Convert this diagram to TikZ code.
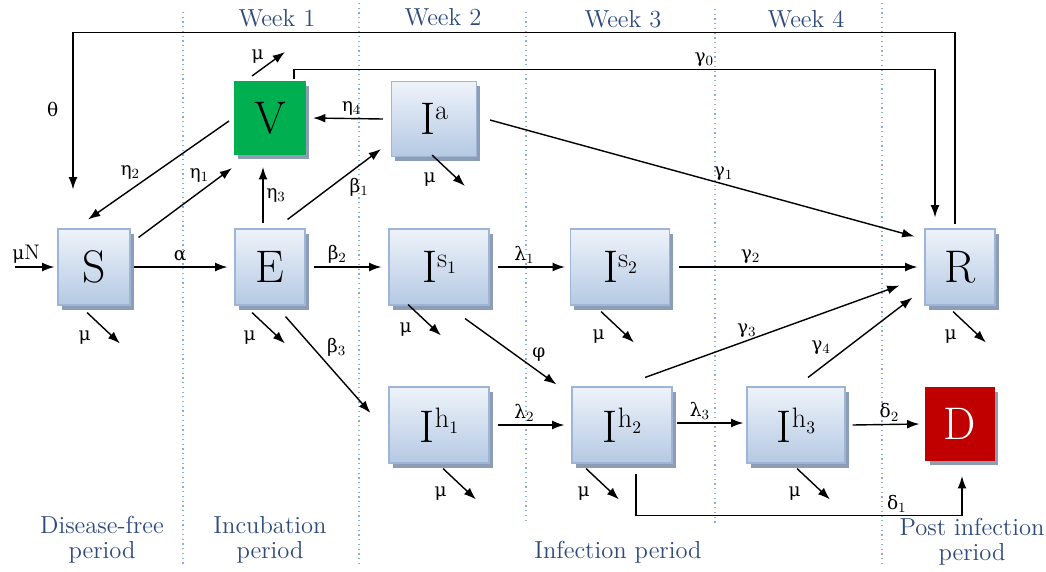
\documentclass[tikz,border=0pt]{standalone}
\usepackage{fontspec}
\newfontfamily\grk{DejaVu Serif}[Scale=0.88]
\usetikzlibrary{arrows.meta,positioning,shadows}
\definecolor{boxtop}{HTML}{EEF3FA}
\definecolor{boxbot}{HTML}{B5C9E3}
\definecolor{boxline}{HTML}{9DB6D8}
\definecolor{boxshade}{HTML}{8D9DB5}
\definecolor{weekblue}{HTML}{2E4A7D}
\definecolor{sepblue}{HTML}{8FAADC}
\definecolor{vgreen}{HTML}{00B050}
\definecolor{dred}{HTML}{C00000}
\newcommand{\Icomp}[2]{I\raisebox{0.32em}{\fontsize{16}{16}\selectfont #1\raisebox{-0.2em}{\fontsize{10}{10}\selectfont #2}}}
\newcommand{\gr}[2]{{\grk #1}\textsubscript{#2}}
\tikzset{
  box/.style={draw=boxline, line width=0.6pt, top color=boxtop, bottom color=boxbot,
    font=\fontsize{26}{26}\selectfont, inner sep=0pt, minimum height=1.52cm,
    drop shadow={shadow xshift=2.2pt, shadow yshift=-2.6pt, fill=boxshade, opacity=1}},
  flow/.style={-{Latex[length=7pt,width=5pt]}, line width=0.8pt},
  lbl/.style={font=\fontsize{12}{12}\selectfont, inner sep=1.5pt},
  week/.style={text=weekblue, font=\fontsize{14}{14}\selectfont, align=center},
  sep/.style={sepblue, dotted, line width=0.7pt},
}
\begin{document}
\begin{tikzpicture}[x=0.02cm, y=-0.02cm]
        \useasboundingbox (0,0) rectangle (1046,572);
        % Period separators
        \foreach \x/\ya/\yb in {183/12/567, 359/3/563, 526/12/523, 715/9/523, 882/3/563}
          \draw[sep] (\x,\ya) -- (\x,\yb);
        % Week and period labels
        \node[week] (w1) at (277,18) {Week 1};
        \node[week] (w2) at (443,17) {Week 2};
        \node[week] (w3) at (623,19) {Week 3};
        \node[week] (w4) at (806,19) {Week 4};
        \node[week] (dfree) at (102,540) {Disease-free\\period};
        \node[week] (incub) at (270,540) {Incubation\\period};
        \node[week] (infect) at (618,552) {Infection period};
        \node[week] (post) at (972,542) {Post infection\\period};
        % Compartments
        \node[box, minimum width=1.44cm] (S) at (94,267) {S};
        \node[box, minimum width=1.40cm] (E) at (270,267) {E};
        \node[box, minimum width=1.42cm, minimum height=1.46cm, top color=vgreen, bottom color=vgreen, draw=vgreen] (V) at (270,118) {V};
        \node[box, minimum width=1.70cm, minimum height=1.50cm] (Ia) at (434,119) {\Icomp{a}{}};
        \node[box, minimum width=2.00cm] (Is1) at (439,267) {\Icomp{s}{1}};
        \node[box, minimum width=1.98cm] (Is2) at (620,267) {\Icomp{s}{2}};
        \node[box, minimum width=1.40cm] (R) at (960,267) {R};
        \node[box, minimum width=2.00cm] (Ih1) at (439,425) {\Icomp{h}{1}};
        \node[box, minimum width=2.00cm] (Ih2) at (622,425) {\Icomp{h}{2}};
        \node[box, minimum width=1.96cm] (Ih3) at (796,425) {\Icomp{h}{3}};
        \node[box, minimum width=1.36cm, minimum height=1.46cm, top color=dred, bottom color=dred, draw=dred, text=white] (D) at (960,424) {D};
        % Inflow
        \coordinate (inflow) at (15,267);
        \draw[flow] (inflow) -- node[lbl, above, pos=.28] {{\grk μ}N} ([shift={(-3,0)}]S.west);
        % Horizontal transitions
        \draw[flow] ([shift={(3,0)}]S.east) -- node[lbl, above] {\gr{α}{}} ([shift={(-7,0)}]E.west);
        \draw[flow] ([shift={(8,0)}]E.east) -- node[lbl, above, pos=.35] {\gr{β}{2}} ([shift={(-7,0)}]Is1.west);
        \draw[flow] ([shift={(8,0)}]Is1.east) -- node[lbl, above, pos=.4] {\gr{λ}{1}} ([shift={(-5,0)}]Is2.west);
        \draw[flow] ([shift={(9,0)}]Is2.east) -- node[lbl, above, pos=.3] {\gr{γ}{2}} ([shift={(-7,0)}]R.west);
        \draw[flow] ([shift={(8,0)}]Ih1.east) -- node[lbl, above, pos=.4] {\gr{λ}{2}} ([shift={(-7,0)}]Ih2.west);
        \draw[flow] ([shift={(4,-2)}]Ih2.east) -- node[lbl, above, pos=.35] {\gr{λ}{3}} ([shift={(-3,-2)}]Ih3.west);
        \draw[flow] ([shift={(7,0)}]Ih3.east) -- node[lbl, above, pos=.55] {\gr{δ}{2}} ([shift={(-6,0)}]D.west);
        \draw[flow] ([shift={(-8,0)}]Ia.west) -- node[lbl, above, pos=.45] {\gr{η}{4}} ([shift={(7,0)}]V.east);
        % Vaccination and other diagonals
        \draw[flow] ([shift={(-7,-5)}]E.north) -- node[lbl, right] {\gr{η}{3}} ([shift={(-7,12)}]V.south);
        \draw[flow] ([shift={(8,9)}]S.north east) -- node[lbl, pos=.65, above=4pt] {\gr{η}{1}} ([shift={(-2,13)}]V.south west);
        \draw[flow] ([shift={(-5,3)}]V.west) -- node[lbl, pos=.7, above=4pt] {\gr{η}{2}} ([shift={(-6,-9)}]S.north);
        \draw[flow] ([shift={(-18,-9)}]E.north east) -- node[lbl, pos=.63, below right] {\gr{β}{1}} ([shift={(-10,-8)}]Ia.south west);
        \draw[flow] ([shift={(13,1)}]Ia.east) -- node[lbl, pos=.55, above] {\gr{γ}{1}} ([shift={(-10,8)}]R.north west);
        \draw[flow] ([shift={(-20,11)}]E.south east) -- node[lbl, pos=.45, above right] {\gr{β}{3}} ([shift={(-18,-12)}]Ih1.west);
        \draw[flow] ([shift={(26,13)}]Is1.south) -- node[lbl, pos=.7, above right] {\gr{φ}{}} ([shift={(-15,-2)}]Ih2.north west);
        \draw[flow] ([shift={(23,-9)}]Ih2.north) -- node[lbl, pos=.4, above] {\gr{γ}{3}} ([shift={(-25,-20)}]R.south west);
        \draw[flow] ([shift={(12,-9)}]Ih3.north) -- node[lbl, pos=.25, above left] {\gr{γ}{4}} ([shift={(-12,-8)}]R.south west);
        % Long return paths
        \draw[flow] ([shift={(-5,-4)}]R.north) -- ++(0,-192) -| node[lbl, pos=.75, left=6pt] {\gr{θ}{}} ([shift={(-21,-39)}]S.north);
        \draw[flow] ([shift={(24,-2)}]V.north) -- ++(0,-9.5) -| node[lbl, pos=.32, above] {\gr{γ}{0}} ([shift={(-25,-11)}]R.north);
        \draw[flow] ([shift={(14,10)}]Ih2.south) -- ++(0,42) -| node[lbl, pos=.4, above] {\gr{δ}{1}} ([shift={(2,15)}]D.south);
        % Natural deaths
        \draw[flow] ([shift={(-18,-5)}]V.north) -- ++(33,-24);
        \path ([shift={(-12,-24)}]V.north) node[lbl] (muV) {\gr{μ}{}};
        \foreach \n/\dx/\dy in {S/-7/7, E/-18/7, Is1/-31/-1, Is2/-19/6, R/-7/6, Ia/-2/-2, Ih1/4/5, Ih2/-36/5, Ih3/1/5}{
          \draw[flow] ([shift={(\dx,\dy)}]\n.south) -- ++(33,31);
          \path ([shift={({\dx-2},{\dy+25})}]\n.south) node[lbl] (mu\n) {\gr{μ}{}};
        }
    \end{tikzpicture}
\end{document}
